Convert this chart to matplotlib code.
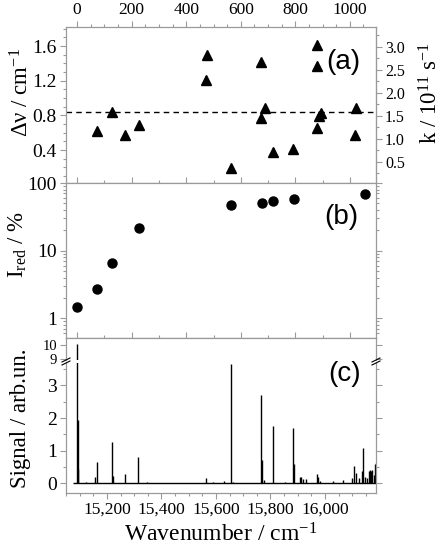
import matplotlib
matplotlib.use("Agg")
import matplotlib.pyplot as plt
from matplotlib.ticker import MultipleLocator, FixedLocator, FixedFormatter, LogLocator, NullFormatter
from matplotlib.lines import Line2D

plt.rcParams['font.family'] = ['Liberation Serif', 'DejaVu Serif']
plt.rcParams['mathtext.fontset'] = 'custom'
plt.rcParams['mathtext.rm'] = 'Liberation Serif'
plt.rcParams['mathtext.it'] = 'Liberation Serif:italic'

# origin of the relative scale (top axis) in absolute wavenumber
ORIGIN = 15091

# panel (a): linewidths, relative wavenumber
lw_pos = [73, 126, 175, 227, 476, 473, 564, 675, 675, 690, 718, 792,
          880, 880, 880, 886, 895, 1021, 1018]
lw_val = [0.62, 0.838, 0.578, 0.693, 1.493, 1.21, 0.19, 1.42, 0.77, 0.889,
          0.374, 0.41, 1.616, 1.37, 0.656, 0.79, 0.826, 0.883, 0.572]
lw_mean = 0.838

# panel (b): I_red in %, relative wavenumber
ired_pos = [-2, 73, 129, 227, 564, 678, 718, 794, 1055]
ired_val = [1.49, 2.69, 6.5, 21.5, 47.7, 50.6, 53.4, 57.9, 69.4]

# panel (c): spectrum lines, absolute wavenumber
peak_pos = [15091, 15093, 15095, 15123, 15158, 15164, 15218, 15223, 15266,
            15315, 15348, 15562, 15590, 15629, 15654, 15663, 15765, 15768,
            15775, 15808, 15853, 15881, 15885, 15908, 15912, 15920, 15930,
            15970, 15974, 15980, 16030, 16066, 16098, 16108, 16112, 16126,
            16134, 16141, 16145, 16153, 16160, 16165, 16170, 16174, 16178,
            16184, 16186]
peak_val = [10.1, 1.95, 0.45, 0.05, 0.2, 0.64, 1.26, 0.22, 0.27,
            0.8, 0.04, 0.17, 0.05, 0.08, 3.66, 0.05, 2.72, 0.7,
            0.1, 1.77, 0.05, 1.7, 0.6, 0.2, 0.18, 0.12, 0.13,
            0.28, 0.2, 0.08, 0.07, 0.1, 0.15, 0.52, 0.3, 0.15,
            0.38, 1.07, 0.2, 0.15, 0.38, 0.4, 0.38, 0.4, 0.25,
            0.6, 0.62]
spec_start, spec_end = 15076, 16187

top_ticks = [0, 200, 400, 600, 800, 1000]
bottom_ticks = [15200, 15400, 15600, 15800, 16000]
bottom_labels = ['15,200', '15,400', '15,600', '15,800', '16,000']

GRAY = '#9a9a9a'
W, H = 443, 550


def rect(x0, y0, x1, y1):
    return [x0 / W, 1 - y1 / H, (x1 - x0) / W, (y1 - y0) / H]


def label(x, y, s, rot=0, size=16.5):
    # place a label by its centre, in pixels from the top-left corner
    fig.text(x / W, 1 - y / H, s, rotation=rot, fontsize=size,
             ha='center', va='center')


def style(ax):
    for s in ax.spines.values():
        s.set_color(GRAY)
        s.set_linewidth(0.9)
    ax.tick_params(which='both', direction='out', color=GRAY, width=0.8,
                   labelcolor='black')
    ax.tick_params(which='major', length=4.5)
    ax.tick_params(which='minor', length=2.5)


fig = plt.figure(figsize=(W / 100, H / 100), dpi=100)

xl_rel = (-41, 1096)
xl_abs = (ORIGIN + xl_rel[0], ORIGIN + xl_rel[1])

# ---- panel (a)
ax_a = fig.add_axes(rect(66, 27, 376, 183))
style(ax_a)
ax_a.plot(lw_pos, lw_val, '^', color='black', ms=7, mec='black')
ax_a.axhline(lw_mean, color='black', ls=(0, (4, 3)), lw=1.0)
ax_a.set_xlim(xl_rel)
ax_a.set_ylim(0.02, 1.82)
ax_a.xaxis.set_major_locator(FixedLocator(top_ticks))
ax_a.xaxis.set_minor_locator(MultipleLocator(50))
ax_a.tick_params(axis='x', which='both', top=True, bottom=False,
                 labeltop=True, labelbottom=False, labelsize=12.5, pad=2)
ax_a.yaxis.set_major_locator(FixedLocator([0.4, 0.8, 1.2, 1.6]))
ax_a.yaxis.set_major_formatter(FixedFormatter(['0.4', '0.8', '1.2', '1.6']))
ax_a.yaxis.set_minor_locator(MultipleLocator(0.1))
ax_a.tick_params(axis='y', which='both', left=True, right=False, labelsize=14, pad=2)
ax_a.text(0.894, 0.776, '(a)', transform=ax_a.transAxes, fontsize=20,
          family='Liberation Sans', ha='center', va='center')

K = 1.8837
ax_k = ax_a.secondary_yaxis('right', functions=(lambda d: d * K, lambda k: k / K))
ax_k.spines['right'].set_color(GRAY)
ax_k.yaxis.set_major_locator(FixedLocator([0.5, 1.0, 1.5, 2.0, 2.5, 3.0]))
ax_k.yaxis.set_major_formatter(FixedFormatter(['0.5', '1.0', '1.5', '2.0', '2.5', '3.0']))
ax_k.yaxis.set_minor_locator(MultipleLocator(0.25))
ax_k.tick_params(which='both', direction='out', color=GRAY, width=0.8, labelsize=11.5, pad=2)
ax_k.tick_params(which='major', length=4.5)
ax_k.tick_params(which='minor', length=2.5)

# ---- panel (b)
ax_b = fig.add_axes(rect(66, 183, 376, 338))
style(ax_b)
ax_b.plot(ired_pos, ired_val, 'o', color='black', ms=6.5)
ax_b.set_yscale('log')
ax_b.set_xlim(xl_rel)
ax_b.set_ylim(0.51, 100)
ax_b.xaxis.set_major_locator(FixedLocator(top_ticks))
ax_b.xaxis.set_minor_locator(MultipleLocator(100))
ax_b.tick_params(axis='x', which='both', top=True, bottom=False,
                 labeltop=False, labelbottom=False)
ax_b.yaxis.set_major_locator(FixedLocator([1, 10, 100]))
ax_b.yaxis.set_major_formatter(FixedFormatter(['1', '10', '100']))
ax_b.yaxis.set_minor_locator(LogLocator(subs=range(2, 10)))
ax_b.yaxis.set_minor_formatter(NullFormatter())
ax_b.tick_params(axis='y', which='both', left=True, right=True, labelsize=14, pad=2)
ax_b.text(0.889, 0.783, '(b)', transform=ax_b.transAxes, fontsize=20,
          family='Liberation Sans', ha='center', va='center')

# ---- panel (c), broken y axis
ax_cu = fig.add_axes(rect(66, 338, 376, 360))
ax_cl = fig.add_axes(rect(66, 363, 376, 493))
for ax in (ax_cu, ax_cl):
    style(ax)
    ax.vlines(peak_pos, 0, peak_val, color='black', lw=1.0)
    ax.hlines(0, spec_start, spec_end, color='black', lw=1.0)
    ax.set_xlim(xl_abs)
    ax.tick_params(axis='y', which='both', left=True, right=True, labelsize=14, pad=2)

ax_cu.set_ylim(8.93, 10.5)
ax_cu.spines['bottom'].set_visible(False)
ax_cu.xaxis.set_major_locator(FixedLocator([ORIGIN + t for t in top_ticks]))
ax_cu.xaxis.set_minor_locator(MultipleLocator(100, offset=ORIGIN))
ax_cu.tick_params(axis='x', which='both', top=True, bottom=False,
                  labeltop=False, labelbottom=False)
ax_cu.yaxis.set_major_locator(FixedLocator([9, 10]))
ax_cu.yaxis.set_major_formatter(FixedFormatter(['9', '10']))
ax_cu.tick_params(axis='y', labelsize=10.5, pad=2)

ax_cl.set_ylim(-0.30, 3.69)
ax_cl.spines['top'].set_visible(False)
ax_cl.xaxis.set_major_locator(FixedLocator(bottom_ticks))
ax_cl.xaxis.set_major_formatter(FixedFormatter(bottom_labels))
ax_cl.xaxis.set_minor_locator(MultipleLocator(50))
ax_cl.tick_params(axis='x', which='both', top=False, bottom=True, labelsize=12.5, pad=2)
ax_cl.yaxis.set_major_locator(FixedLocator([0, 1, 2, 3]))
ax_cl.yaxis.set_major_formatter(FixedFormatter(['0', '1', '2', '3']))
ax_cl.yaxis.set_minor_locator(MultipleLocator(0.5))
ax_cl.text(0.9, 0.916, '(c)', transform=ax_cl.transAxes, fontsize=20,
           family='Liberation Sans', ha='center', va='center')

# axis titles
label(22, 92, 'Δν / cm$^{\\mathregular{-1}}$', rot=90)
label(431, 93, 'k / 10$^{\\mathregular{11}}$ s$^{\\mathregular{-1}}$', rot=90)
label(18, 245, 'I$_{\\mathregular{red}}$ / %', rot=90)
label(21, 418, 'Signal / arb.un.', rot=90)
label(221, 535, 'Wavenumber / cm$^{\\mathregular{-1}}$', size=17)

# break marks on both spines
for xp in (66, 376):
    for dy in (-1.5, 1.5):
        y = 361.5 + dy
        fig.add_artist(Line2D([(xp - 4) / W, (xp + 4) / W],
                              [1 - (y + 2) / H, 1 - (y - 2) / H],
                              color='black', lw=0.8))

plt.savefig('out.png', dpi=100)
